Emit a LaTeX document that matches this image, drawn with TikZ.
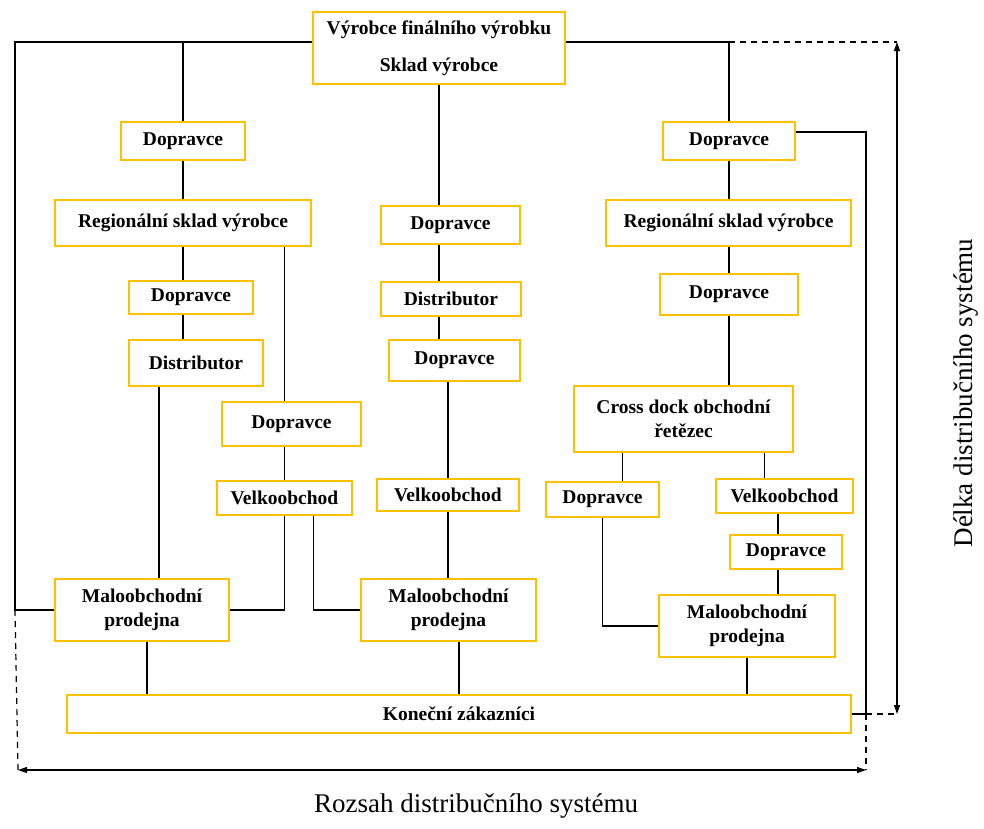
\documentclass[tikz,border=0pt]{standalone}
\usepackage{fontspec}
\setmainfont{Liberation Serif}
\usetikzlibrary{arrows.meta}

\definecolor{boxgold}{HTML}{FFC000}

\tikzset{
  box/.style={draw=boxgold, line width=1.6pt, fill=white, inner sep=0pt,
    align=center, font=\bfseries\fontsize{19.5}{24}\selectfont},
  sz/.style 2 args={minimum width=#1pt, minimum height=#2pt},
  link/.style={draw=black, line width=1.2pt},
  span/.style={line width=1.2pt, dash pattern=on 6pt off 5pt},
  measure/.style={line width=1.2pt, <->, >={Triangle[length=9pt,width=6pt]}},
  axislabel/.style={font=\fontsize{27}{32}\selectfont}
}

\begin{document}
\begin{tikzpicture}[x=1pt,y=-1pt]
  \useasboundingbox (0,0) rectangle (984,828);

  \node [box, sz={252}{72}] (top) at (439,48) {V\'yrobce fin\'aln\'iho v\'yrobku\\[13pt]Sklad v\'yrobce};

  \node [box, sz={124}{38}] (dopL) at (183,141) {Dopravce};
  \node [box, sz={256}{46}] (regL) at (183,223) {Region\'aln\'i sklad v\'yrobce};
  \node [box, sz={124}{33}] (dopL2) at (191,297.5) {Dopravce};
  \node [box, sz={134}{46}] (distL) at (196,363) {Distributor};
  \node [box, sz={139}{44}] (dopL3) at (291.5,424) {Dopravce};
  \node [box, sz={135}{34}] (velL) at (284.5,498) {Velkoobchod};
  \node [box, sz={174}{62}] (maloL) at (142,610) {Maloobchodn\'i\\prodejna};

  \node [box, sz={139}{38}] (dopC) at (450.5,225) {Dopravce};
  \node [box, sz={140}{34}] (distC) at (451,299) {Distributor};
  \node [box, sz={131}{41}] (dopC2) at (454.5,360.5) {Dopravce};
  \node [box, sz={142}{32}] (velC) at (448,495) {Velkoobchod};
  \node [box, sz={175}{62}] (maloC) at (448.5,610) {Maloobchodn\'i\\prodejna};

  \node [box, sz={132}{38}] (dopR) at (729,141) {Dopravce};
  \node [box, sz={245}{46}] (regR) at (728.5,223) {Region\'aln\'i sklad v\'yrobce};
  \node [box, sz={138}{41}] (dopR2) at (729,294.5) {Dopravce};
  \node [box, sz={219}{66}] (cross) at (683.5,419) {Cross dock obchodn\'i\\\v{r}et\v{e}zec};
  \node [box, sz={113}{35}] (dopR3) at (602.5,499.5) {Dopravce};
  \node [box, sz={137}{34}] (velR) at (784.5,496) {Velkoobchod};
  \node [box, sz={112}{34}] (dopR4) at (786,552) {Dopravce};
  \node [box, sz={176}{62}] (maloR) at (747,626) {Maloobchodn\'i\\prodejna};

  \node [box, sz={784}{38}] (kon) at (459,714) {Kone\v{c}n\'i z\'akazn\'ici};

  \coordinate (tl) at (15,42);
  \coordinate (tr) at (897,42);
  \coordinate (br) at (897,714);
  \coordinate (rc) at (866,132);
  \coordinate (rk) at (866,714);
  \coordinate (bl) at (18,770);
  \coordinate (bk) at (866,770);

  \draw [link] (top.west |- tl) -- (tl) -- (tl |- maloL.west) -- (maloL.west);
  \draw [link] (top.east |- tl) -- (dopR.north |- tl);
  \draw [link] (dopL.north) -- (dopL.north |- tl);
  \draw [link] (dopR.north) -- (dopR.north |- tl);
  \draw [link] (dopR.east |- rc) -- (rc) -- (rk) -- (kon.east);

  \draw [link] (dopL.south) -- (regL.north);
  \draw [link] (regL.south) -- (dopL2.north -| regL.south);
  \draw [link] (dopL2.south -| regL.south) -- (distL.north -| regL.south);
  \draw [link] ([xshift=-37pt]distL.south) -- ([xshift=-37pt]distL.south |- maloL.north);
  \draw [link] (regL.south -| velL.north) -- (dopL3.north -| velL.north);
  \draw [link] (dopL3.south -| velL.north) -- (velL.north);
  \draw [link] (velL.south) -- (velL.south |- maloL.east) -- (maloL.east);
  \draw [link] ([xshift=29pt]velL.south) -- ([xshift=29pt]velL.south |- maloC.west) -- (maloC.west);
  \draw [link] ([xshift=5pt]maloL.south) -- ([xshift=5pt]maloL.south |- kon.north);

  \draw [link] (top.south) -- (top.south |- dopC.north);
  \draw [link] (top.south |- dopC.south) -- (top.south |- distC.north);
  \draw [link] (top.south |- distC.south) -- (top.south |- dopC2.north);
  \draw [link] (velC.north |- dopC2.south) -- (velC.north);
  \draw [link] (velC.south) -- (velC.south |- maloC.north);
  \draw [link] (kon.north) -- (kon.north |- maloC.south);

  \draw [link] (dopR.south) -- (dopR.south |- regR.north);
  \draw [link] (dopR.south |- regR.south) -- (dopR.south |- dopR2.north);
  \draw [link] (dopR2.south) -- (dopR2.south |- cross.north);
  \draw [link] ([xshift=20pt]dopR3.north) -- ([xshift=20pt]dopR3.north |- cross.south);
  \draw [link] ([xshift=-20pt]velR.north) -- ([xshift=-20pt]velR.north |- cross.south);
  \draw [link] ([xshift=-8pt]dopR4.north) -- ([xshift=-8pt]dopR4.north |- velR.south);
  \draw [link] ([xshift=-8pt]dopR4.south) -- ([xshift=-8pt]dopR4.south |- maloR.north);
  \draw [link] (dopR3.south) -- (dopR3.south |- maloR.west) -- (maloR.west);
  \draw [link] (maloR.south) -- (maloR.south |- kon.north);

  \draw [span] (dopR.north |- tl) -- (tr);
  \draw [span] (rk) -- (br);
  \draw [span] (rk) -- (bk);
  \draw [span] (tl |- maloL.west) -- (bl);
  \draw [measure] (tr) -- (br);
  \draw [measure] (bl) -- (bk);

  \node [axislabel] (rozsah) at (476,806) {Rozsah distribu\v{c}n\'iho syst\'emu};
  \node [axislabel, rotate=90] (delka) at (966,393) {D\'elka distribu\v{c}n\'iho syst\'emu};
\end{tikzpicture}
\end{document}
